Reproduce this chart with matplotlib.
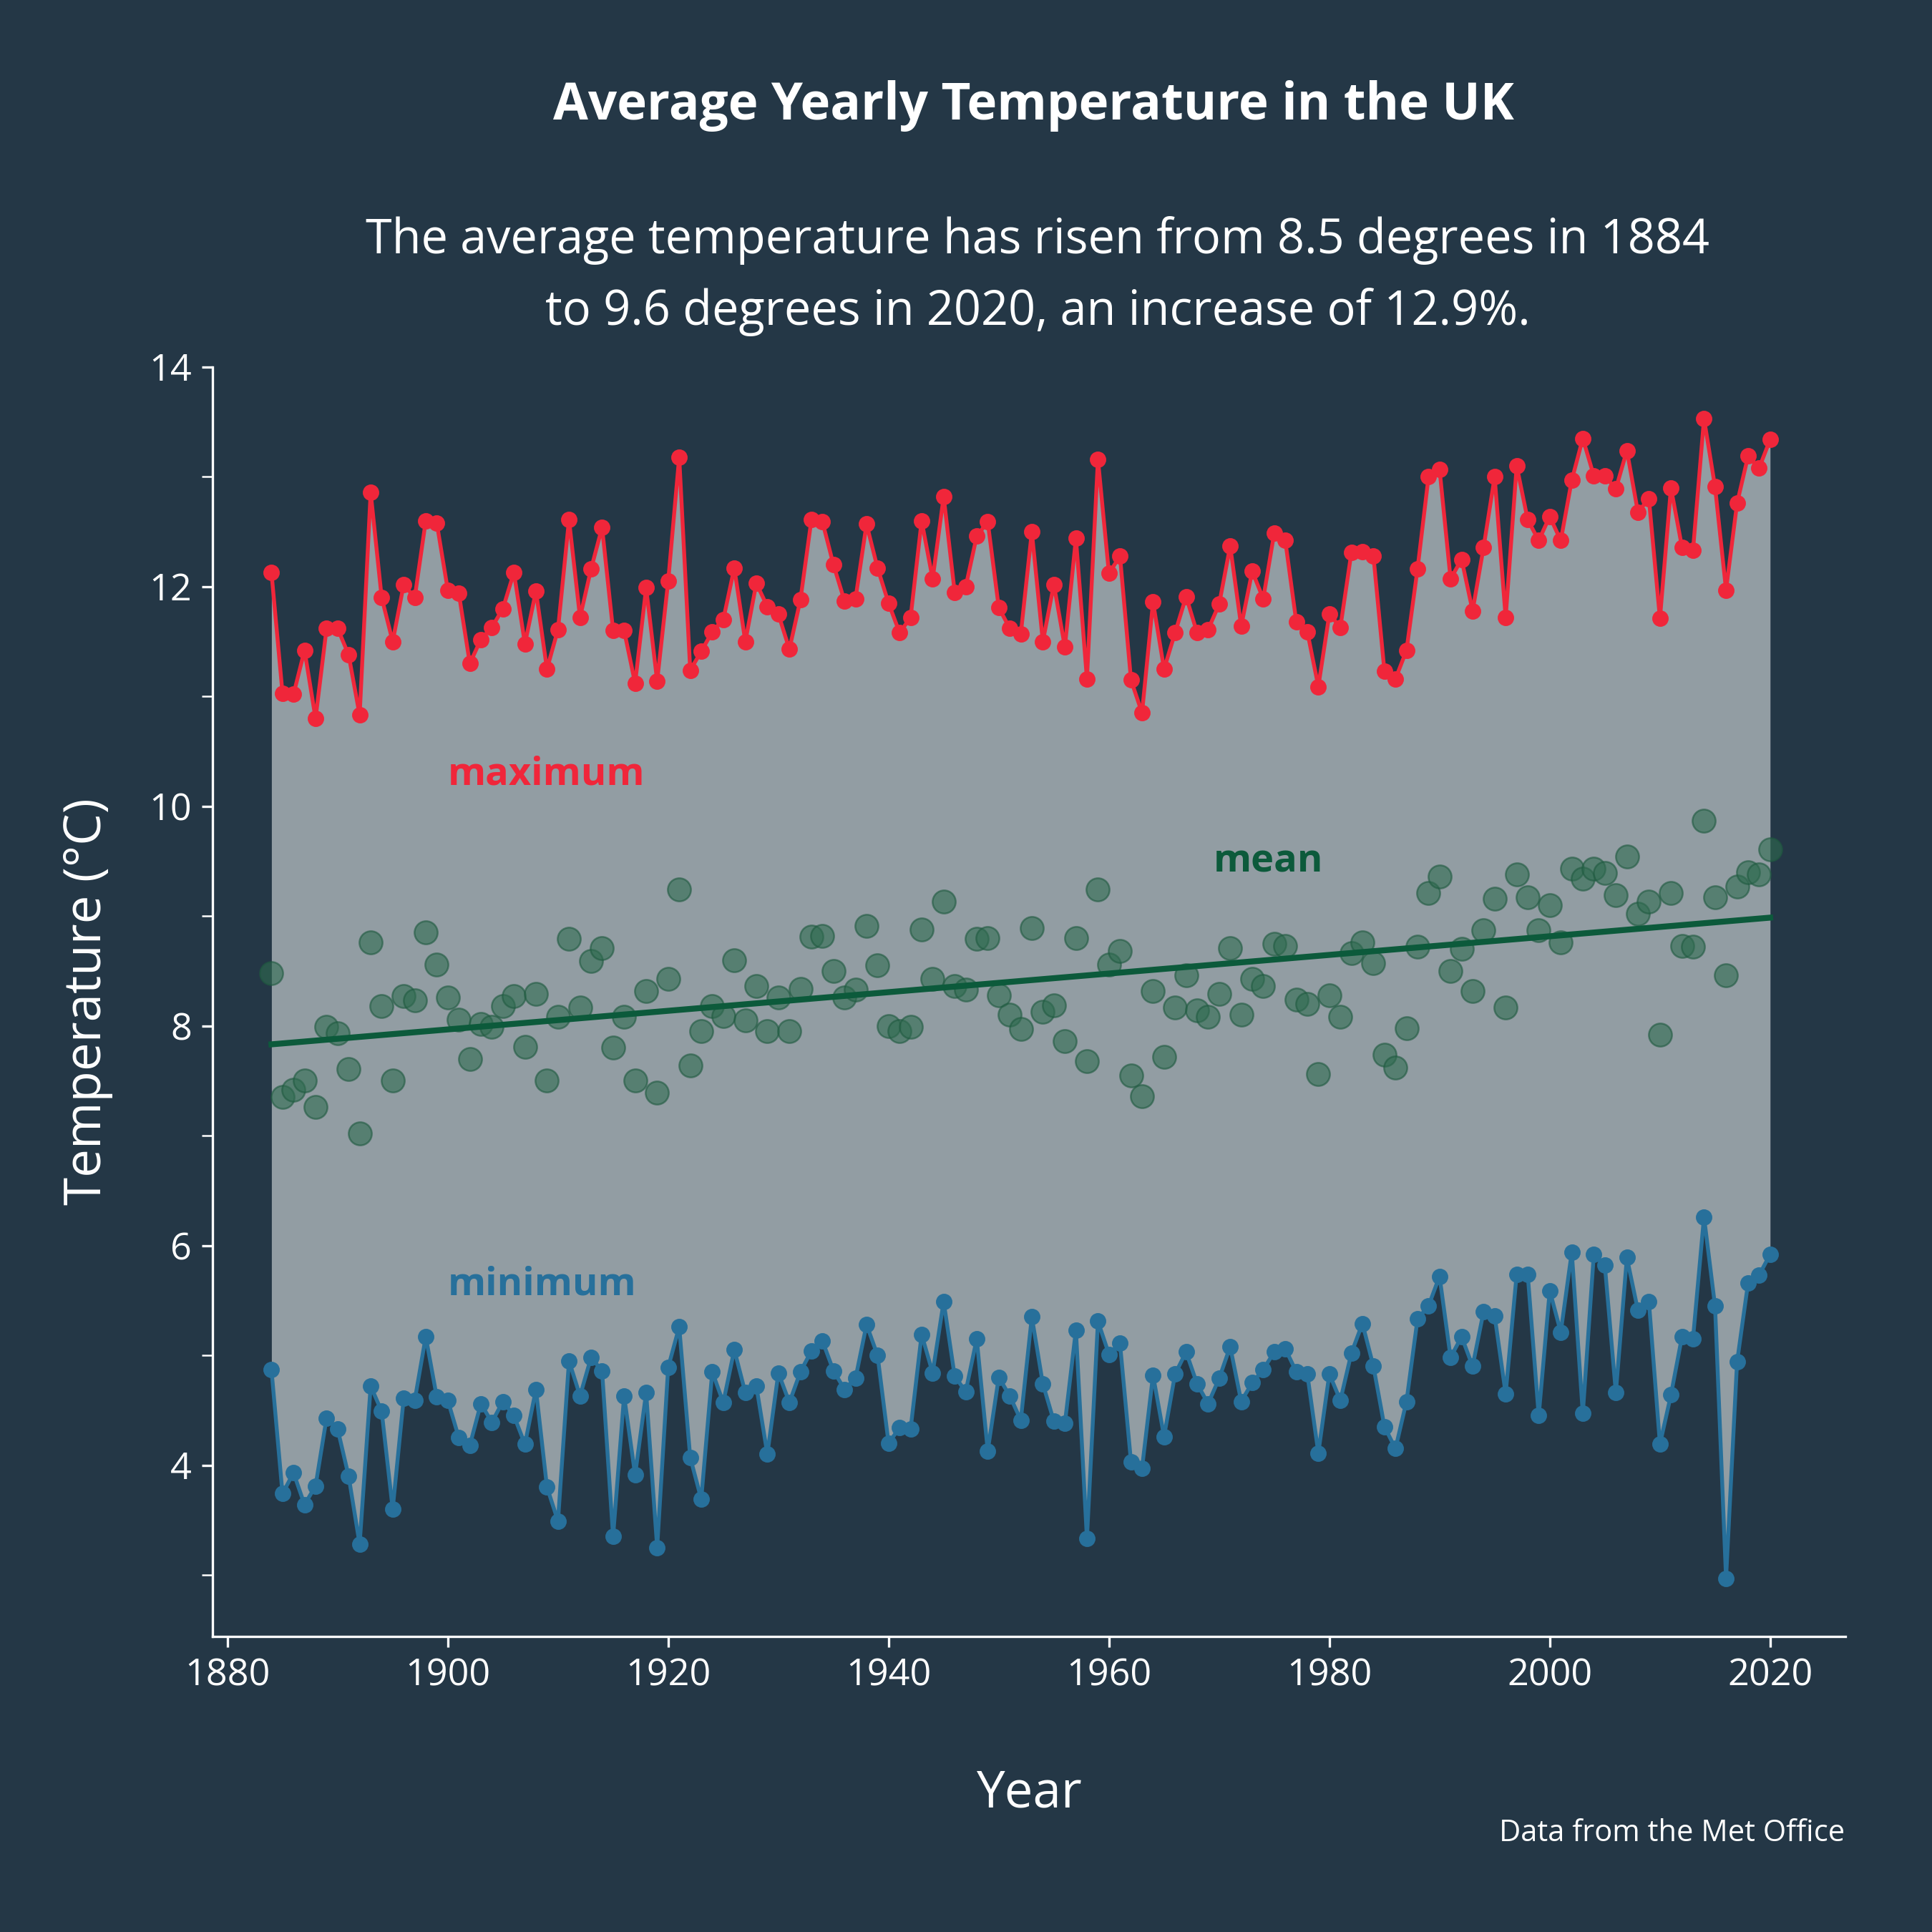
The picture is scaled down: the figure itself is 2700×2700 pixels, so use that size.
import numpy as np
import matplotlib
matplotlib.use("Agg")
import matplotlib.pyplot as plt

years = list(range(1884, 2021))
tmax = [12.13,11.03,11.02,11.42,10.80,11.62,11.62,11.38,10.83,12.86,11.9,11.5,12.02,11.9,12.6,12.58,11.97,11.94,11.3,11.52,
11.63,11.8,12.13,11.48,11.96,11.25,11.61,12.61,11.72,12.16,12.54,11.6,11.6,11.12,11.99,11.14,12.05,13.18,11.24,11.41,
11.59,11.7,12.17,11.5,12.03,11.82,11.75,11.43,11.88,12.61,12.59,12.2,11.87,11.89,12.57,12.17,11.85,11.58,11.72,12.6,
12.07,12.82,11.95,12.0,12.46,12.59,11.81,11.62,11.57,12.5,11.5,12.02,11.45,12.44,11.16,13.16,12.12,12.28,11.15,10.85,
11.86,11.25,11.58,11.91,11.58,11.61,11.84,12.37,11.64,12.14,11.89,12.49,12.42,11.68,11.59,11.09,11.75,11.63,12.31,12.32,
12.28,11.23,11.16,11.42,12.16,13.0,13.07,12.07,12.25,11.78,12.36,13.0,11.72,13.1,12.61,12.42,12.64,12.42,12.97,13.35,
13.01,13.01,12.89,13.24,12.68,12.8,11.71,12.9,12.36,12.33,13.53,12.91,11.97,12.76,13.19,13.08,13.34]
tmean = [8.48,7.35,7.42,7.5,7.26,7.99,7.93,7.61,7.02,8.76,8.18,7.5,8.27,8.23,8.85,8.56,8.26,8.06,7.7,8.02,
7.99,8.18,8.27,7.81,8.29,7.5,8.08,8.79,8.17,8.59,8.71,7.8,8.08,7.5,8.32,7.39,8.43,9.24,7.64,7.95,
8.18,8.09,8.6,8.05,8.36,7.95,8.26,7.95,8.34,8.81,8.82,8.5,8.26,8.33,8.91,8.55,8.0,7.95,7.99,8.88,
8.43,9.13,8.36,8.33,8.79,8.8,8.28,8.1,7.97,8.89,8.13,8.19,7.86,8.8,7.68,9.24,8.56,8.68,7.55,7.36,
8.32,7.72,8.17,8.46,8.14,8.08,8.29,8.71,8.1,8.43,8.36,8.75,8.73,8.24,8.2,7.56,8.28,8.08,8.66,8.76,
8.57,7.74,7.62,7.98,8.72,9.21,9.36,8.5,8.7,8.32,8.87,9.16,8.17,9.38,9.17,8.87,9.1,8.76,9.43,9.34,
9.43,9.39,9.19,9.54,9.02,9.13,7.92,9.21,8.73,8.72,9.87,9.17,8.46,9.27,9.4,9.38,9.61]
tmin = [4.87,3.74,3.93,3.64,3.81,4.43,4.33,3.9,3.28,4.72,4.49,3.6,4.61,4.59,5.17,4.62,4.59,4.25,4.18,4.56,
4.39,4.58,4.45,4.19,4.69,3.8,3.49,4.95,4.63,4.98,4.86,3.35,4.63,3.91,4.66,3.25,4.89,5.26,4.07,3.69,
4.85,4.57,5.05,4.66,4.72,4.1,4.84,4.57,4.85,5.04,5.13,4.86,4.69,4.79,5.28,5.0,4.2,4.34,4.33,5.19,
4.84,5.49,4.81,4.67,5.15,4.13,4.8,4.63,4.41,5.35,4.74,4.4,4.38,5.23,3.33,5.31,5.01,5.11,4.03,3.97,
4.82,4.26,4.83,5.03,4.74,4.56,4.79,5.08,4.58,4.75,4.87,5.03,5.06,4.85,4.83,4.11,4.83,4.59,5.02,5.29,
4.9,4.35,4.15,4.58,5.33,5.45,5.72,4.98,5.17,4.9,5.4,5.36,4.65,5.74,5.74,4.45,5.59,5.21,5.94,4.47,
5.92,5.82,4.66,5.89,5.41,5.49,4.19,4.64,5.17,5.15,6.26,5.45,2.97,4.94,5.66,5.73,5.92]
xticks = [1880, 1900, 1920, 1940, 1960, 1980, 2000, 2020]
yticks = [4, 6, 8, 10, 12, 14]

bg = "#243746"
red = "#f0263a"
blue = "#27709b"
green = "#0c5a3b"
fam = ["Open Sans", "DejaVu Sans"]
plt.rcParams['font.family'] = fam

fig = plt.figure(figsize=(9, 9), dpi=300, facecolor=bg)
ax = fig.add_axes([0.11, 0.153, 0.845, 0.657], facecolor=bg)
x = np.array(years)
ax.fill_between(x, tmin, tmax, color="#929da3", lw=0, zorder=1)
ax.plot(x, tmax, color=red, lw=1.3, marker="o", ms=4.5, zorder=3)
ax.plot(x, tmin, color=blue, lw=1.3, marker="o", ms=4.5, zorder=3)
ax.scatter(x, tmean, s=60, color="#2f6b50", alpha=0.6, edgecolors="#1f5a40", linewidths=0.6, zorder=2)
c = np.polyfit(x, tmean, 1)
ax.plot(x, np.polyval(c, x), color=green, lw=2, zorder=4)

ax.text(1900, 10.2, "maximum", color=red, fontsize=13, fontweight="bold", zorder=5)
ax.text(1900, 5.55, "minimum", color=blue, fontsize=13, fontweight="bold", zorder=5)
ax.text(1969.5, 9.4, "mean", color=green, fontsize=13, fontweight="bold", zorder=5)

ax.set_xlim(1878.65, 2026.8)
ax.set_ylim(2.44, 14)
ax.set_xticks(xticks)
ax.set_yticks(yticks)
ax.set_yticks([3, 5, 7, 9, 11, 13], minor=True)
for s in ["top", "right"]:
    ax.spines[s].set_visible(False)
for s in ["left", "bottom"]:
    ax.spines[s].set_color("white")
ax.tick_params(colors="white", labelsize=12.5, which="both")
ax.tick_params(which="minor", length=3.5)
ax.set_xlabel("Year", color="white", fontsize=17, labelpad=25)
ax.set_ylabel("Temperature (°C)", color="white", fontsize=17, labelpad=12)

fig.text(0.535, 0.945, "Average Yearly Temperature in the UK", color="white",
         fontsize=17, fontweight="bold", ha="center", va="center")
fig.text(0.537, 0.857, "The average temperature has risen from 8.5 degrees in 1884\nto 9.6 degrees in 2020, an increase of 12.9%.",
         color="white", fontsize=16, ha="center", va="center", linespacing=1.6)
fig.text(0.955, 0.051, "Data from the Met Office", color="white", fontsize=10, ha="right", va="center")

fig.savefig("out.png", dpi=300, facecolor=bg)
